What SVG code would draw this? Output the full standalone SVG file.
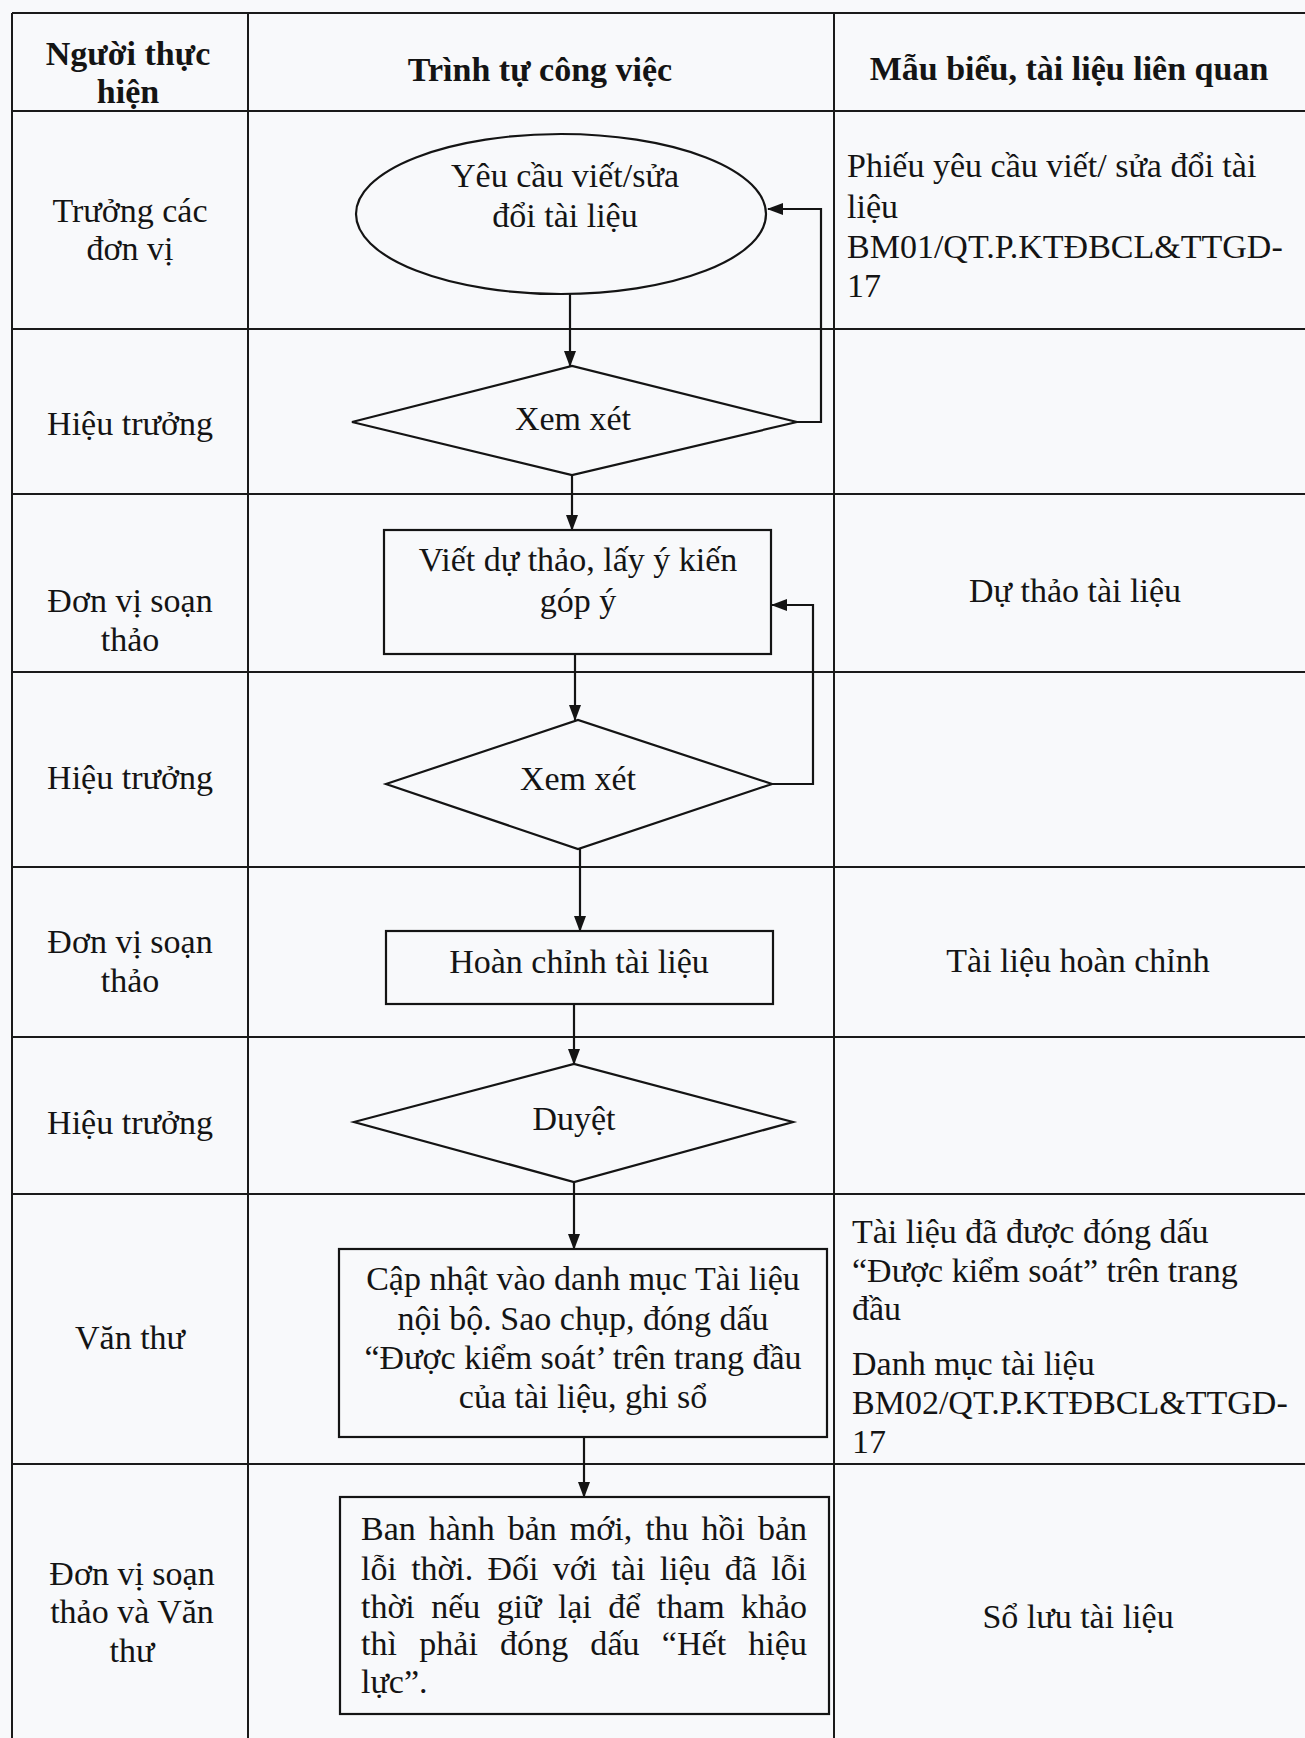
<svg xmlns="http://www.w3.org/2000/svg" width="1305" height="1738" viewBox="0 0 1305 1738">
<style>
text{font-family:"Liberation Serif","Times New Roman",serif;font-size:34px;fill:#141414}
.b{font-weight:bold}
.c{text-anchor:middle}
.grid{stroke:#1a1a1a;stroke-width:2;fill:none}
.shape{stroke:#141414;stroke-width:2.2;fill:none}
.conn{stroke:#141414;stroke-width:2.2;fill:none}
</style>
<defs>
<marker id="ah" markerWidth="16" markerHeight="12" refX="15" refY="6" orient="auto" markerUnits="userSpaceOnUse">
<path d="M0,0 L16,6 L0,12 Z" fill="#141414"/>
</marker>
</defs>
<rect x="0" y="0" width="1305" height="1738" fill="#f8f9fb"/>
<g id="table" class="grid">
<line x1="12" y1="13" x2="1305" y2="13"/>
<line x1="12" y1="13" x2="12" y2="1738"/>
<line x1="248" y1="13" x2="248" y2="1738"/>
<line x1="834" y1="13" x2="834" y2="1738"/>
<line x1="12" y1="111" x2="1305" y2="111"/>
<line x1="12" y1="329" x2="1305" y2="329"/>
<line x1="12" y1="494" x2="1305" y2="494"/>
<line x1="12" y1="672" x2="1305" y2="672"/>
<line x1="12" y1="867" x2="1305" y2="867"/>
<line x1="12" y1="1037" x2="1305" y2="1037"/>
<line x1="12" y1="1194" x2="1305" y2="1194"/>
<line x1="12" y1="1464" x2="1305" y2="1464"/>
</g>
<g id="headers">
<text class="b c" x="128" y="65">Người thực</text>
<text class="b c" x="128" y="103">hiện</text>
<text class="b c" x="540" y="81">Trình tự công việc</text>
<text class="b c" x="1069" y="80">Mẫu biểu, tài liệu liên quan</text>
</g>
<g id="performers">
<text class="c" x="130" y="222">Trưởng các</text>
<text class="c" x="130" y="260">đơn vị</text>
<text class="c" x="130" y="435">Hiệu trưởng</text>
<text class="c" x="130" y="612">Đơn vị soạn</text>
<text class="c" x="130" y="651">thảo</text>
<text class="c" x="130" y="789">Hiệu trưởng</text>
<text class="c" x="130" y="953">Đơn vị soạn</text>
<text class="c" x="130" y="992">thảo</text>
<text class="c" x="130" y="1134">Hiệu trưởng</text>
<text class="c" x="130" y="1349">Văn thư</text>
<text class="c" x="132" y="1585">Đơn vị soạn</text>
<text class="c" x="132" y="1623">thảo và Văn</text>
<text class="c" x="132" y="1662">thư</text>
</g>
<g id="documents">
<text x="847" y="177">Phiếu yêu cầu viết/ sửa đổi tài</text>
<text x="847" y="218">liệu</text>
<text x="847" y="258">BM01/QT.P.KTĐBCL&amp;TTGD-</text>
<text x="847" y="297">17</text>
<text class="c" x="1075" y="602">Dự thảo tài liệu</text>
<text class="c" x="1078" y="972">Tài liệu hoàn chỉnh</text>
<text x="852" y="1243">Tài liệu đã được đóng dấu</text>
<text x="852" y="1282">“Được kiểm soát” trên trang</text>
<text x="852" y="1320">đầu</text>
<text x="852" y="1375">Danh mục tài liệu</text>
<text x="852" y="1414">BM02/QT.P.KTĐBCL&amp;TTGD-</text>
<text x="852" y="1453">17</text>
<text class="c" x="1078" y="1628">Sổ lưu tài liệu</text>
</g>
<g id="connectors">
<line class="conn" x1="570" y1="294" x2="570" y2="366" marker-end="url(#ah)"/>
<polyline class="conn" points="797,422 821,422 821,209 768,209" marker-end="url(#ah)"/>
<line class="conn" x1="572" y1="475" x2="572" y2="530" marker-end="url(#ah)"/>
<line class="conn" x1="575" y1="654" x2="575" y2="720" marker-end="url(#ah)"/>
<polyline class="conn" points="772,784 813,784 813,605 772,605" marker-end="url(#ah)"/>
<line class="conn" x1="580" y1="849" x2="580" y2="931" marker-end="url(#ah)"/>
<line class="conn" x1="574" y1="1004" x2="574" y2="1064" marker-end="url(#ah)"/>
<line class="conn" x1="574" y1="1182" x2="574" y2="1249" marker-end="url(#ah)"/>
<line class="conn" x1="584" y1="1437" x2="584" y2="1497" marker-end="url(#ah)"/>
</g>
<g id="n1-request">
<ellipse class="shape" cx="561" cy="214" rx="205" ry="80"/>
<text class="c" x="565" y="187">Yêu cầu viết/sửa</text>
<text class="c" x="565" y="227">đổi tài liệu</text>
</g>
<g id="n2-review">
<polygon class="shape" points="352,422 572,366 797,422 572,475"/>
<text class="c" x="573" y="430">Xem xét</text>
</g>
<g id="n3-draft">
<rect class="shape" x="384" y="530" width="387" height="124"/>
<text class="c" x="578" y="571">Viết dự thảo, lấy ý kiến</text>
<text class="c" x="578" y="612">góp ý</text>
</g>
<g id="n4-review">
<polygon class="shape" points="386,784 578,720 772,784 578,849"/>
<text class="c" x="578" y="790">Xem xét</text>
</g>
<g id="n5-finalize">
<rect class="shape" x="386" y="931" width="387" height="73"/>
<text class="c" x="579" y="973">Hoàn chỉnh tài liệu</text>
</g>
<g id="n6-approve">
<polygon class="shape" points="354,1122 574,1064 793,1122 574,1182"/>
<text class="c" x="574" y="1130">Duyệt</text>
</g>
<g id="n7-update">
<rect class="shape" x="339" y="1249" width="488" height="188"/>
<text class="c" x="583" y="1290">Cập nhật vào danh mục Tài liệu</text>
<text class="c" x="583" y="1330">nội bộ. Sao chụp, đóng dấu</text>
<text class="c" x="583" y="1369">“Được kiểm soát’ trên trang đầu</text>
<text class="c" x="583" y="1408">của tài liệu, ghi sổ</text>
</g>
<g id="n8-issue">
<rect class="shape" x="340" y="1497" width="489" height="217"/>
<text x="361" y="1540" word-spacing="4.5" textLength="446" lengthAdjust="spacing">Ban hành bản mới, thu hồi bản</text>
<text x="361" y="1580" word-spacing="6" textLength="446" lengthAdjust="spacing">lỗi thời. Đối với tài liệu đã lỗi</text>
<text x="361" y="1618" word-spacing="8" textLength="446" lengthAdjust="spacing">thời nếu giữ lại để tham khảo</text>
<text x="361" y="1655" word-spacing="13.5" textLength="446" lengthAdjust="spacing">thì phải đóng dấu “Hết hiệu</text>
<text x="361" y="1693">lực”.</text>
</g>
</svg>
